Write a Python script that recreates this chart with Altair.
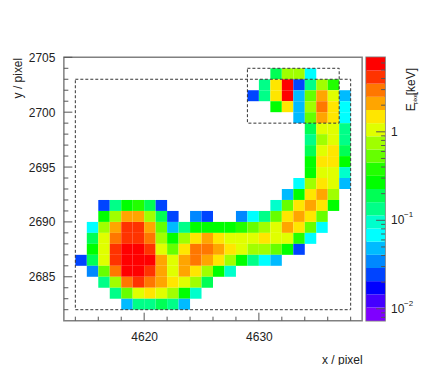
import math
import altair as alt
import pandas as pd

FONT = "Liberation Sans"
PALETTE = ["#7f00ff", "#4400ff", "#0000ff", "#0044ff", "#0088ff", "#00bbff", "#00ffff",
           "#00ffcc", "#00ff88", "#00ff55", "#00ff00", "#22ff00", "#66ff00", "#a0ff00",
           "#e0ff00", "#ffe600", "#ffa500", "#ff7700", "#ff3300", "#ff0000"]

# y of each row: (first x pixel, colour level of each cell)
ROWS = {
    2703: (4631, [9, 13, 13, 6]),
    2702: (4630, [8, 15, 19, 3, 8, 13, 11]),
    2701: (4629, [3, 8, 15, 19, 5, 12, 16, 14, 5]),
    2700: (4631, [10, 15, 5, 13, 17, 15, 6]),
    2699: (4633, [5, 12, 16, 15, 6]),
    2698: (4634, [9, 14, 14, 8]),
    2697: (4634, [8, 13, 14, 8]),
    2696: (4634, [9, 14, 15, 9]),
    2695: (4634, [10, 15, 15, 10]),
    2694: (4634, [10, 14, 14, 7]),
    2693: (4633, [6, 13, 15, 14, 5]),
    2692: (4632, [5, 10, 15, 16, 13]),
    2691: (4631, [7, 12, 15, 16, 15, 10]),
    2689: (4615, [6, 13, 16, 18, 18, 16, 12, 5, 8, 10, 10, 10, 10, 11, 12, 13, 14, 16, 15, 12, 6]),
    2688: (4615, [9, 14, 17, 18, 18, 17, 13, 10, 13, 15, 16, 15, 14, 14, 14, 15, 14, 14, 11, 6]),
    2687: (4615, [10, 14, 18, 19, 19, 18, 14, 12, 15, 17, 17, 16, 15, 14, 13, 13, 12, 10, 3]),
    2686: (4614, [3, 9, 14, 18, 19, 19, 19, 16, 14, 16, 17, 16, 15, 13, 10, 8, 6, 5]),
    2685: (4615, [4, 12, 17, 19, 19, 18, 16, 14, 16, 15, 13, 10, 7]),
    2684: (4616, [8, 13, 17, 18, 17, 16, 15, 14, 13, 9]),
    2683: (4617, [8, 12, 14, 15, 14, 13, 10, 7]),
    2682: (4618, [5, 8, 8, 9, 8, 5]),
}
# row 2690 has a gap and a right-hand part
ROW_2690_PARTS = [(4616, [10, 13, 16, 16, 13, 9, 3]), (4624, [4, 3]), (4628, [4, 6, 8, 12, 15, 16, 15, 12])]
ROW_2691_LEFT = (4616, [3, 8, 10, 11, 9, 3])

records = []
def add(y, start, levels):
    for i, lv in enumerate(levels):
        records.append({"x": start + i, "x2": start + i + 1, "y": y, "y2": y + 1, "level": lv})
for y, (start, levels) in ROWS.items():
    add(y, start, levels)
for start, levels in ROW_2690_PARTS:
    add(2690, start, levels)
add(2691, *ROW_2691_LEFT)
cells = pd.DataFrame(records)

X_DOMAIN = [4613, 4639]
Y_DOMAIN = [2681, 2705]
X_MAJOR = [4620, 4630]
Y_MAJOR = [2685, 2690, 2695, 2700, 2705]
BOXES = [{"x": 4614, "x2": 4638, "y": 2682, "y2": 2703},
         {"x": 4629, "x2": 4637, "y": 2699, "y2": 2704}]
Z_DOMAIN = [0.00734, 6.95]
W, H, BW = 299, 264, 19

xs = alt.Scale(domain=X_DOMAIN, nice=False, zero=False)
ys = alt.Scale(domain=Y_DOMAIN, nice=False, zero=False)
zs = alt.Scale(domain=Z_DOMAIN, type="log", nice=False)
TICK = "#555555"

heat = alt.Chart(cells).mark_rect(strokeWidth=0).encode(
    x=alt.X("x:Q", scale=xs, axis=alt.Axis(
        values=X_MAJOR, format="d", title="x / pixel", titleAnchor="end", titleFont=FONT,
        titleFontSize=12, titleFontWeight="normal", titleColor="#222222", titlePadding=12,
        labelFont=FONT, labelFontSize=12, labelColor="#222222", labelPadding=11,
        ticks=False, domain=False, grid=False)),
    x2="x2:Q",
    y=alt.Y("y:Q", scale=ys, axis=alt.Axis(
        values=Y_MAJOR, format="d", title="y / pixel", titleAnchor="end", titleFont=FONT,
        titleFontSize=12, titleFontWeight="normal", titleColor="#222222", titlePadding=4,
        labelFont=FONT, labelFontSize=12, labelColor="#222222", labelPadding=9,
        ticks=False, domain=False, grid=False)),
    y2="y2:Q",
    color=alt.Color("level:O", legend=None,
                    scale=alt.Scale(domain=list(range(20)), range=PALETTE)),
)

boxes = alt.Chart(pd.DataFrame(BOXES)).mark_rect(
    fillOpacity=0, stroke="#333333", strokeWidth=1, strokeDash=[3, 2]
).encode(x=alt.X("x:Q", scale=xs), x2="x2:Q", y=alt.Y("y:Q", scale=ys), y2="y2:Q")

x_ticks = pd.DataFrame({"x": list(range(4614, 4639, 2))})
x_ticks["len"] = [8 if v in X_MAJOR else 4 for v in x_ticks["x"]]
y_ticks = pd.DataFrame({"y": list(range(2682, 2706))})
y_ticks["len"] = [8.5 if v in Y_MAJOR else 4.5 for v in y_ticks["y"]]

def x_rule(data):
    return alt.Chart(data).mark_rule(color=TICK, strokeWidth=1).encode(
        x=alt.X("x:Q", scale=xs), y=alt.value(H), y2=alt.value(H - data["len"].iloc[0]))
def y_rule(data):
    return alt.Chart(data).mark_rule(color=TICK, strokeWidth=1).encode(
        y=alt.Y("y:Q", scale=ys), x=alt.value(0), x2=alt.value(data["len"].iloc[0]))

main = alt.layer(
    heat, boxes,
    x_rule(x_ticks[x_ticks.len == 8]), x_rule(x_ticks[x_ticks.len == 4]),
    y_rule(y_ticks[y_ticks.len == 8.5]), y_rule(y_ticks[y_ticks.len == 4.5]),
).properties(width=W, height=H)

# colour bar
lo, hi = math.log10(Z_DOMAIN[0]), math.log10(Z_DOMAIN[1])
step = (hi - lo) / 20
bands = pd.DataFrame({"lo": [10 ** (lo + i * step) for i in range(20)],
                      "hi": [10 ** (lo + (i + 1) * step) for i in range(20)],
                      "level": list(range(20))})
band = alt.Chart(bands).mark_rect(strokeWidth=0).encode(
    y=alt.Y("lo:Q", scale=zs, axis=None), y2="hi:Q",
    x=alt.value(0), x2=alt.value(BW),
    color=alt.Color("level:O", legend=None,
                    scale=alt.Scale(domain=list(range(20)), range=PALETTE)),
)
Z_MAJOR = [0.01, 0.1, 1]
Z_MINOR = [0.008, 0.009, 0.02, 0.03, 0.04, 0.05, 0.06, 0.07, 0.08, 0.09,
           0.2, 0.3, 0.4, 0.5, 0.6, 0.7, 0.8, 0.9, 2, 3, 4, 5, 6]
z_major = alt.Chart(pd.DataFrame({"z": Z_MAJOR})).mark_rule(color=TICK).encode(
    y=alt.Y("z:Q", scale=zs, axis=None), x=alt.value(BW), x2=alt.value(BW - 9))
z_minor = alt.Chart(pd.DataFrame({"z": Z_MINOR})).mark_rule(color=TICK).encode(
    y=alt.Y("z:Q", scale=zs, axis=None), x=alt.value(BW), x2=alt.value(BW - 4))

def txt(data, xoff, dy=0, size=12):
    return alt.Chart(pd.DataFrame(data)).mark_text(
        font=FONT, fontSize=size, align="left", baseline="middle", color="#222222", dy=dy
    ).encode(y=alt.Y("z:Q", scale=zs, axis=None), x=alt.value(xoff), text="t:N")

z_labels = txt({"z": [1], "t": ["1"]}, 25)
z_tens = txt({"z": [0.1, 0.01], "t": ["10", "10"]}, 25)
z_sups = txt({"z": [0.1, 0.01], "t": ["\u22121", "\u22122"]}, 38, dy=-5, size=8)

def rot(label, yoff, xoff, size):
    return alt.Chart(pd.DataFrame({"t": [label]})).mark_text(
        font=FONT, fontSize=size, angle=270, align="left", baseline="alphabetic", color="#222222"
    ).encode(x=alt.value(xoff), y=alt.value(yoff), text="t:N")

bar = alt.layer(
    band, z_major, z_minor, z_labels, z_tens, z_sups,
    rot("E", 54, 49, 12), rot("pixel", 47, 51, 5.5), rot("[keV]", 38, 49, 12),
).properties(width=BW, height=H)

chart = alt.hconcat(main, bar, spacing=2).resolve_scale(color="independent").properties(
    padding={"left": 2, "top": 42, "right": -1, "bottom": -2}
).configure_view(stroke="#808080", strokeWidth=1.5)

chart.save("out.html", embed_options={"renderer": "svg", "actions": False})
